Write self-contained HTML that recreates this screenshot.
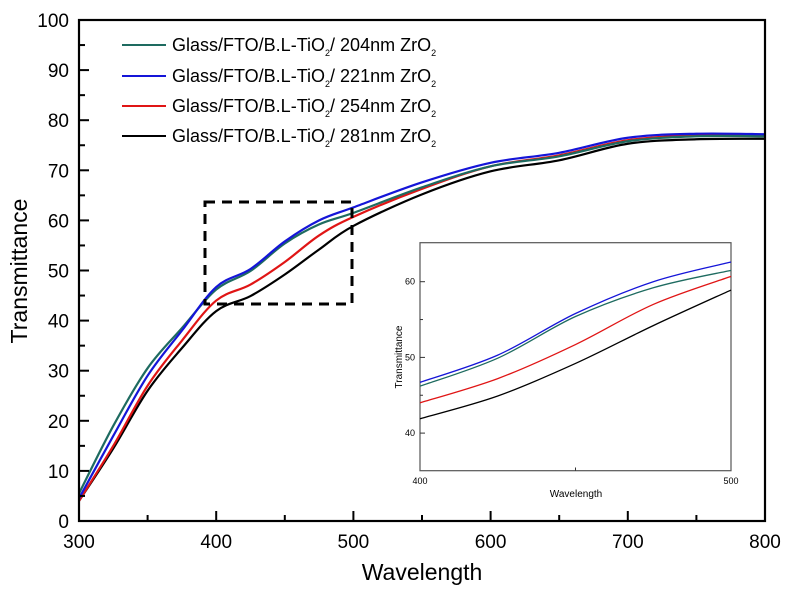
<!DOCTYPE html>
<html><head><meta charset="utf-8"><style>
html,body{margin:0;padding:0;background:#fff}
svg{display:block;font-family:"Liberation Sans",Arial,sans-serif}
</style></head><body>
<svg id="s" width="788" height="593" viewBox="0 0 788 593" xmlns="http://www.w3.org/2000/svg">
<g id="main"></g>
<g id="legend" font-size="18" fill="#000">
 <line x1="122" y1="45" x2="166" y2="45" stroke="#1e6b60" stroke-width="2"/>
 <text x="172" y="51">Glass/FTO/B.L-TiO<tspan font-size="9" dy="5">2</tspan><tspan dy="-5">/ 204nm ZrO</tspan><tspan font-size="9" dy="5">2</tspan></text>
 <line x1="122" y1="76" x2="166" y2="76" stroke="#1515d8" stroke-width="2"/>
 <text x="172" y="82">Glass/FTO/B.L-TiO<tspan font-size="9" dy="5">2</tspan><tspan dy="-5">/ 221nm ZrO</tspan><tspan font-size="9" dy="5">2</tspan></text>
 <line x1="122" y1="106" x2="166" y2="106" stroke="#e01515" stroke-width="2"/>
 <text x="172" y="112">Glass/FTO/B.L-TiO<tspan font-size="9" dy="5">2</tspan><tspan dy="-5">/ 254nm ZrO</tspan><tspan font-size="9" dy="5">2</tspan></text>
 <line x1="122" y1="136" x2="166" y2="136" stroke="#000" stroke-width="2"/>
 <text x="172" y="142">Glass/FTO/B.L-TiO<tspan font-size="9" dy="5">2</tspan><tspan dy="-5">/ 281nm ZrO</tspan><tspan font-size="9" dy="5">2</tspan></text>
</g>
<rect x="205" y="202" width="147" height="102" fill="none" stroke="#000" stroke-width="3" stroke-dasharray="10,7"/>
<text x="422" y="580" font-size="23" text-anchor="middle">Wavelength</text>
<text transform="translate(27,271) rotate(-90)" font-size="23" text-anchor="middle">Transmittance</text>
<g id="inset"></g>
</svg>
<script>
var NS="http://www.w3.org/2000/svg";
function el(p,t,a,txt){var e=document.createElementNS(NS,t);for(var k in a)e.setAttribute(k,a[k]);if(txt!=null)e.textContent=txt;p.appendChild(e);return e;}
function path(pts){var d="M"+pts[0][0]+","+pts[0][1];for(var i=0;i<pts.length-1;i++){var p0=pts[i-1]||pts[i],p1=pts[i],p2=pts[i+1],p3=pts[i+2]||p2;
var c1=[p1[0]+(p2[0]-p0[0])/6,p1[1]+(p2[1]-p0[1])/6],c2=[p2[0]-(p3[0]-p1[0])/6,p2[1]-(p3[1]-p1[1])/6];
d+="C"+c1[0].toFixed(2)+","+c1[1].toFixed(2)+" "+c2[0].toFixed(2)+","+c2[1].toFixed(2)+" "+p2[0].toFixed(2)+","+p2[1].toFixed(2);}return d;}
var inset={
 teal:[[400,46.2],[425,49.9],[450,55.4],[475,59.2],[500,61.5]],
 blue:[[400,46.7],[425,50.3],[450,55.8],[475,60.0],[500,62.6]],
 red:[[400,44.0],[425,47.2],[450,51.7],[475,57.0],[500,60.7]],
 black:[[400,41.9],[425,44.9],[450,49.2],[475,54.2],[500,58.9]]};
var pre={teal:[[300,5.5],[325,19],[350,30.5],[375,38.5]],blue:[[300,4.5],[325,17],[350,29],[375,38]],red:[[300,4],[325,15],[350,27],[375,36]],black:[[300,4],[325,14.5],[350,26],[375,34.5]]};
var post={teal:[[550,66.6],[600,70.8],[650,72.8],[700,75.8],[750,76.8],[800,76.8]],
 blue:[[550,67.6],[600,71.5],[650,73.5],[700,76.5],[750,77.3],[800,77.2]],
 red:[[550,66.3],[600,70.8],[650,73],[700,76],[750,77],[800,77]],
 black:[[550,65.2],[600,69.8],[650,72],[700,75.3],[750,76.2],[800,76.3]]};
var col={teal:"#1e6b60",blue:"#1515d8",red:"#e01515",black:"#000"};
var order=["black","red","teal","blue"];
var g=document.getElementById("main");
function X(w){return 79+1.372*(w-300);} function Y(t){return 521-5.01*t;}
order.forEach(function(k){var d=pre[k].concat(inset[k],post[k]);
 el(g,"path",{d:path(d.map(function(p){return[X(p[0]),Y(p[1])];})),fill:"none",stroke:col[k],"stroke-width":2.2});});
el(g,"rect",{x:79,y:20,width:686,height:501,fill:"none",stroke:"#000","stroke-width":2.2});
for(var w=300;w<=800;w+=50){var x=X(w),mj=w%100==0;el(g,"line",{x1:x,y1:521,x2:x,y2:521-(mj?10:6),stroke:"#000","stroke-width":2});
 if(mj)el(g,"text",{x:x,y:548,"font-size":19,"text-anchor":"middle"},w);}
for(var t=0;t<=100;t+=5){var y=Y(t),mj=t%10==0;el(g,"line",{x1:79,y1:y,x2:79+(mj?10:6),y2:y,stroke:"#000","stroke-width":2});
 if(mj)el(g,"text",{x:69,y:y+7,"font-size":19,"text-anchor":"end"},t);}
var gi=document.getElementById("inset");
function IX(w){return 420+3.11*(w-400);} function IY(t){return 281.7-7.57*(t-60);}
el(gi,"rect",{x:420,y:242.7,width:311,height:228,fill:"#fff",stroke:"#555","stroke-width":1.2});
order.forEach(function(k){el(gi,"path",{d:path(inset[k].map(function(p){return[IX(p[0]),IY(p[1])];})),fill:"none",stroke:col[k],"stroke-width":1.3});});
[40,45,50,55,60].forEach(function(t){var y=IY(t);el(gi,"line",{x1:420,y1:y,x2:t%10==0?425:423,y2:y,stroke:"#333","stroke-width":1});
 if(t%10==0)el(gi,"text",{x:415,y:y+3,"font-size":9,"text-anchor":"end"},t);});
el(gi,"line",{x1:IX(450),y1:470.7,x2:IX(450),y2:467.5,stroke:"#333","stroke-width":1});
el(gi,"text",{x:420,y:484,"font-size":9,"text-anchor":"middle"},"400");
el(gi,"text",{x:731,y:484,"font-size":9,"text-anchor":"middle"},"500");
el(gi,"text",{x:576,y:497,"font-size":10,"text-anchor":"middle"},"Wavelength");
el(gi,"text",{transform:"translate(402,357) rotate(-90)","font-size":10,"text-anchor":"middle"},"Transmittance");
</script>
</body></html>
